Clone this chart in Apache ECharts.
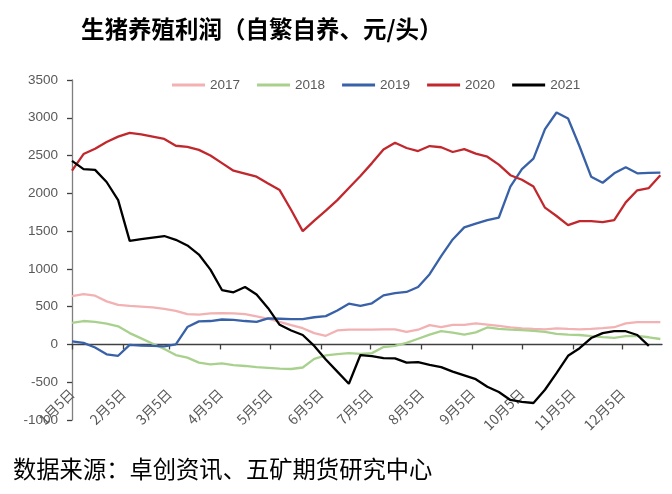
<!DOCTYPE html>
<html>
<head>
<meta charset="utf-8">
<script src="https://cdn.jsdelivr.net/npm/echarts@6/dist/echarts.min.js"></script>
<style>html,body{margin:0;padding:0;background:#fff;}#c{width:672px;height:494px;}</style>
</head>
<body>
<div id="c"></div>
<script>
// Weekly observations: day-of-year (Jan 1 = 0), first week on Jan 5, one point per week
const firstWeekDay = 4;
const weekStep = 7;

const tickDays = [4, 35, 63, 94, 124, 155, 185, 216, 247, 277, 308, 338];
const tickLabels = ['1月5日','2月5日','3月5日','4月5日','5月5日','6月5日','7月5日','8月5日','9月5日','10月5日','11月5日','12月5日'];

const seriesNames = ['2017','2018','2019','2020','2021'];

const y2017 = [640,665,645,570,525,510,500,490,470,445,400,395,410,415,410,400,370,340,300,255,215,150,115,185,195,195,195,200,200,165,195,255,230,260,258,278,262,245,225,212,205,200,212,205,200,205,215,228,280,295,296,295];
const y2018 = [285,310,300,275,240,150,80,10,-60,-140,-175,-240,-265,-250,-275,-285,-300,-310,-320,-325,-305,-190,-145,-128,-115,-125,-115,-35,-20,20,75,130,175,155,130,160,225,205,195,190,180,165,140,130,125,110,98,88,110,112,95,72];
const y2019 = [40,20,-40,-130,-150,-5,-15,-20,-25,0,230,305,310,330,325,310,300,345,340,335,335,360,375,450,540,510,545,650,680,695,760,930,1170,1390,1550,1600,1645,1680,2090,2320,2460,2850,3070,2990,2620,2220,2140,2265,2345,2265,2270,2275];
const y2020 = [2300,2520,2590,2680,2750,2800,2780,2750,2720,2630,2615,2575,2500,2400,2300,2260,2220,2130,2043,1780,1500,1640,1770,1910,2070,2230,2400,2580,2670,2600,2560,2626,2610,2547,2586,2525,2485,2380,2240,2180,2090,1810,1700,1580,1633,1633,1620,1646,1880,2040,2070,2240];
const y2021 = [2430,2320,2310,2150,1910,1370,1395,1415,1435,1385,1310,1190,990,720,690,760,660,480,260,185,125,-20,-200,-360,-520,-140,-155,-180,-185,-240,-235,-270,-300,-360,-410,-460,-560,-630,-735,-760,-775,-600,-380,-150,-50,85,150,175,175,125,-20];

const colors = ['#F2B1B3','#A9D18E','#3861A8','#C0282E','#000000'];
const allValues = [y2017, y2018, y2019, y2020, y2021];

const yMin = -1000, yMax = 3500, yStep = 500, xCross = -500;
const gridTop = 80, gridBottom = 74;

function toPairs(arr) {
  return arr.map((v, i) => [firstWeekDay + i * weekStep, v]);
}

const chart = echarts.init(document.getElementById('c'), null, {renderer: 'canvas'});
const gridHeight = 494 - gridTop - gridBottom;
const crossOffset = -gridHeight * (xCross - yMin) / (yMax - yMin);

const numFont = 'Liberation Sans';
const cjkFont = '"Noto Sans CJK SC"';

chart.setOption({
  animation: false,
  backgroundColor: '#ffffff',
  title: {
    text: '生猪养殖利润（自繁自养、元/头）',
    left: 76, top: 12,
    textStyle: {fontSize: 23.5, fontWeight: 'bold', color: '#000', fontFamily: cjkFont}
  },
  graphic: [{
    type: 'text', left: 13, top: 458,
    style: {text: '数据来源：卓创资讯、五矿期货研究中心', fontSize: 23.3, fill: '#000', fontFamily: cjkFont}
  }],
  legend: {
    data: seriesNames,
    left: 167, top: 73,
    icon: 'rect',
    itemWidth: 33, itemHeight: 3, itemGap: 17,
    textStyle: {fontSize: 13.5, color: '#595959', fontFamily: numFont}
  },
  grid: {left: 72, right: 10, top: gridTop, bottom: gridBottom, containLabel: false},
  xAxis: {
    type: 'value',
    min: 4, max: 362,
    offset: crossOffset,
    splitLine: {show: false},
    axisLine: {show: true, lineStyle: {color: '#404040', width: 1.3}},
    axisTick: {show: true, length: 5, customValues: tickDays, lineStyle: {color: '#404040', width: 1.3}},
    axisLabel: {
      customValues: tickDays,
      rotate: 45, margin: 9,
      fontSize: 14, color: '#595959', fontFamily: cjkFont,
      formatter: function (v) {
        const i = tickDays.indexOf(Math.round(v));
        return i >= 0 ? tickLabels[i] : '';
      }
    }
  },
  yAxis: {
    type: 'value',
    min: yMin, max: yMax, interval: yStep,
    splitLine: {show: false},
    axisLine: {show: true, lineStyle: {color: '#7f7f7f', width: 1.3}},
    axisTick: {show: true, length: 5, lineStyle: {color: '#404040', width: 1.3}},
    axisLabel: {
      margin: 14, fontSize: 13.5, color: '#595959', fontFamily: numFont,
      formatter: function (v) { return String(v); }
    }
  },
  series: seriesNames.map((name, k) => ({
    name: name,
    type: 'line',
    data: toPairs(allValues[k]),
    symbol: 'none',
    smooth: false,
    z: k === 4 ? 10 : 2 + k,
    lineStyle: {color: colors[k], width: 2.3},
    itemStyle: {color: colors[k]}
  }))
});
</script>
</body>
</html>
